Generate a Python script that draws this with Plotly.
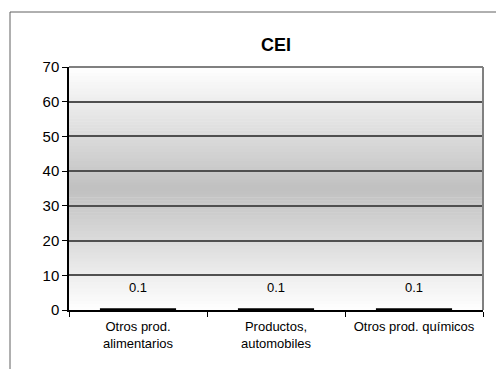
import plotly.graph_objects as go

categories = ["Otros prod.<br>alimentarios", "Productos,<br>automobiles", "Otros prod. químicos"]
values = [0.1, 0.1, 0.1]
value_labels = ["0.1", "0.1", "0.1"]
title_text = "CEI"

# page is drawn with an 8px body margin, so layout coordinates are offset by 8
W, H = 504, 369
L, R, T, B = 61, 29, 59, 67

fig = go.Figure()
fig.add_trace(go.Bar(
    x=categories, y=values,
    marker=dict(color="black", line=dict(color="black", width=3)),
    hoverinfo="skip",
))

for c, v, t in zip(categories, values, value_labels):
    fig.add_annotation(x=c, y=v, text=t, showarrow=False, yanchor="middle", yshift=22,
                       font=dict(family="Liberation Sans, Arial", size=13, color="black"))

shapes = []
N = 80
for i in range(N):
    y0 = i / N
    y1 = (i + 1) / N
    m = (y0 + y1) / 2
    t = 1 - abs(m - 0.5) * 2
    g = round(255 - (255 - 192) * t)
    shapes.append(dict(type="rect", xref="x domain", yref="y domain", x0=0, x1=1, y0=y0, y1=y1 + 0.002,
                       fillcolor=f"rgb({g},{g},{g})", line=dict(width=0), layer="below"))
shapes.append(dict(type="line", xref="x domain", yref="y domain", x0=0, x1=1, y0=1, y1=1,
                   line=dict(color="#808080", width=2), layer="above"))
shapes.append(dict(type="line", xref="x domain", yref="y domain", x0=1, x1=1, y0=0, y1=1,
                   line=dict(color="#808080", width=2), layer="above"))
pw = W - L - R
ph = H - T - B
ox = (2 - L) / pw
oy = 1 + (T - 4) / ph
shapes.append(dict(type="line", xref="paper", yref="paper", x0=ox, x1=1.2, y0=oy, y1=oy,
                   line=dict(color="#606060", width=1)))
shapes.append(dict(type="line", xref="paper", yref="paper", x0=ox, x1=ox, y0=-0.5, y1=oy,
                   line=dict(color="#606060", width=1)))

fig.update_layout(
    width=W, height=H,
    margin=dict(l=L, r=R, t=T, b=B, autoexpand=False),
    paper_bgcolor="white", plot_bgcolor="rgba(0,0,0,0)",
    showlegend=False,
    bargap=0.47,
    shapes=shapes,
    font=dict(family="Liberation Sans, Arial", size=12, color="black"),
    title=dict(text=f"<b>{title_text}</b>", x=268 / W, xanchor="center", y=1 - 37 / H, yanchor="middle",
               font=dict(family="Liberation Sans, Arial", size=18, color="black")),
)
fig.update_xaxes(
    type="category", tickson="boundaries", ticks="outside", ticklen=5, tickcolor="black",
    showline=True, linecolor="black", linewidth=1.5, showgrid=False,
    tickfont=dict(size=13), ticklabelstandoff=4,
)
fig.update_yaxes(
    range=[0, 70], dtick=10, ticks="outside", ticklen=5, tickcolor="black",
    showline=True, linecolor="black", linewidth=1.5,
    showgrid=True, gridcolor="#505050", gridwidth=1.5, zeroline=False,
    tickfont=dict(size=15),
)

fig.write_html("out.html")
